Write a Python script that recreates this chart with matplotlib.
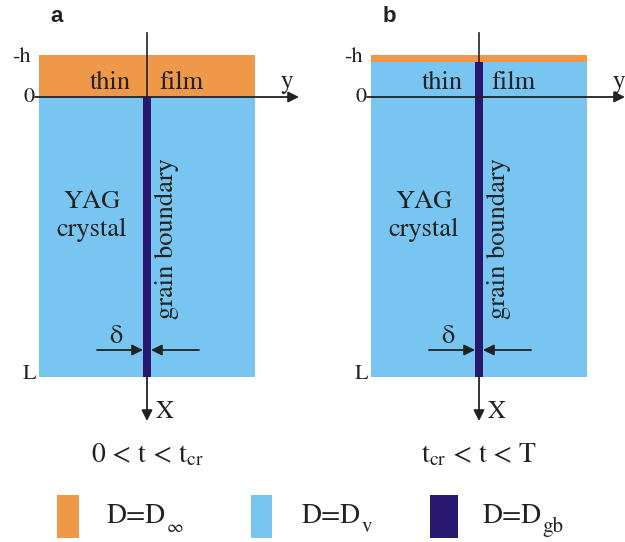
import matplotlib
matplotlib.use("Agg")
import matplotlib.pyplot as plt
from matplotlib.patches import Rectangle

plt.rcParams['mathtext.fontset'] = 'stix'
SERIF = 'STIXGeneral'

# ---- data (pixel-space schematic) ----
panel_labels = ['a', 'b']
panel_offsets = [0, 332]
film_bottom = [97, 62]          # lower edge of orange film layer in each panel
gb_top = [97, 62]               # top of grain boundary in each panel
captions = [r'0 < t < t$_{\mathrm{cr}}$', r't$_{\mathrm{cr}}$ < t < T']
legend_labels = ['D=D', 'D=D', 'D=D']
legend_subs = ['∞', 'v', 'gb']
legend_colors = ['#F0984A', '#77C5F0', '#28186F']

ORANGE, BLUE, NAVY = legend_colors
INK = '#222222'

fig = plt.figure(figsize=(6.25, 5.42), dpi=100)
ax = fig.add_axes([0, 0, 1, 1])
ax.set_xlim(0, 625)
ax.set_ylim(542, 0)
ax.axis('off')

arrow_kw = dict(arrowstyle='-|>', color=INK, lw=1.3, mutation_scale=16,
                shrinkA=0, shrinkB=0)

for lab, off, fb, gt, cap in zip(panel_labels, panel_offsets, film_bottom, gb_top, captions):
    x0, x1 = 39 + off, 255 + off
    # film (orange) and crystal (blue)
    ax.add_patch(Rectangle((x0, 55), x1 - x0, fb - 55, color=ORANGE, lw=0))
    ax.add_patch(Rectangle((x0, fb), x1 - x0, 377 - fb, color=BLUE, lw=0))
    # grain boundary
    gx = 143 + off
    ax.add_patch(Rectangle((gx, gt), 8, 377 - gt, color=NAVY, lw=0, zorder=3))
    cx = 147 + off
    # axes
    ax.plot([cx, cx], [33, gt], color=INK, lw=1.2, zorder=2)
    ax.annotate('', xy=(cx, 421), xytext=(cx, 376), arrowprops=arrow_kw, zorder=4)
    xend = 299 + off if off == 0 else 625
    ax.annotate('', xy=(xend, 97), xytext=(35 + off, 97), arrowprops=arrow_kw, zorder=4)
    # delta arrows
    ax.annotate('', xy=(gx, 350), xytext=(97 + off, 350), arrowprops=arrow_kw, zorder=4)
    ax.annotate('', xy=(gx + 8, 350), xytext=(199 + off, 350), arrowprops=arrow_kw, zorder=4)
    # texts
    ax.text(57 + off, 17, lab, fontsize=16, fontweight='bold', family='Liberation Sans',
            ha='center', va='center', color=INK)
    ax.text(31 + off, 57, '-h', fontsize=16, family=SERIF, ha='right', va='center', color=INK)
    ax.text(34 + off, 97, '0', fontsize=16, family=SERIF, ha='right', va='center', color=INK)
    ax.text(36 + off, 374, 'L', fontsize=16, family=SERIF, ha='right', va='center', color=INK)
    ax.text(287 + off, 82, 'y', fontsize=18, family=SERIF, ha='center', va='center', color=INK)
    ax.text(110 + off, 89, 'thin', fontsize=19, family=SERIF, ha='center', va='baseline', color=INK)
    ax.text(182 + off, 89, 'film', fontsize=19, family=SERIF, ha='center', va='baseline', color=INK)
    ax.text(92 + off, 208, 'YAG', fontsize=19, family=SERIF, ha='center', va='baseline', color=INK)
    ax.text(92 + off, 236, 'crystal', fontsize=19, family=SERIF, ha='center', va='baseline', color=INK)
    ax.text(167 + off, 239, 'grain boundary', fontsize=19, family=SERIF, rotation=90,
            ha='center', va='center', color=INK)
    ax.text(116 + off, 337, 'δ', fontsize=19, family=SERIF, ha='center', va='center', color=INK)
    ax.text(165 + off, 412, 'X', fontsize=18, family=SERIF, ha='center', va='center', color=INK)
    ax.text(147 + off, 462, cap, fontsize=20, family=SERIF, ha='center', va='baseline', color=INK)

# legend
patch_x = [57, 251, 430]
patch_w = [22, 21, 28]
text_x = [107, 302, 483]
renderer = fig.canvas.get_renderer()
inv = ax.transData.inverted()
for px, pw, tx, col, lab, sub in zip(patch_x, patch_w, text_x, legend_colors,
                                      legend_labels, legend_subs):
    ax.add_patch(Rectangle((px, 495), pw, 43, color=col, lw=0))
    t = ax.text(tx, 523, lab, fontsize=20, family=SERIF, ha='left', va='baseline', color=INK)
    bb = t.get_window_extent(renderer=renderer)
    xr = inv.transform((bb.x1, bb.y0))[0]
    ax.text(xr + 0.5, 532, sub, fontsize=15 if sub != '∞' else 13, family=SERIF,
            ha='left', va='baseline', color=INK)

fig.savefig('out.png', dpi=100)
